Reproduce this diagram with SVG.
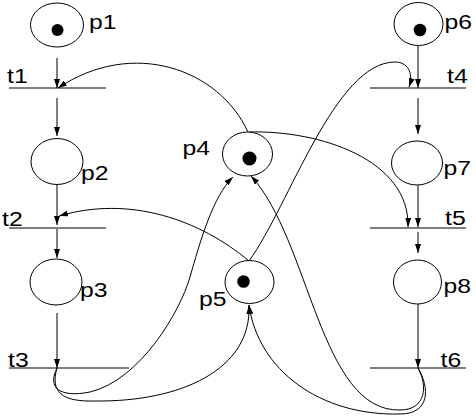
<svg xmlns="http://www.w3.org/2000/svg" width="476" height="419" viewBox="0 0 476 419">
<style>
  .pl { fill: #fff; stroke: #000; stroke-width: 1; }
  .tk { fill: #000; stroke: none; }
  .bar { stroke: #000; stroke-width: 1.2; fill: none; }
  .ed { stroke: #000; stroke-width: 1; fill: none; marker-end: url(#ah); }
  .lb { font-family: "Liberation Sans", Arial, sans-serif; font-size: 19.5px; fill: #000; }
</style>
<defs>
  <marker id="ah" markerWidth="9" markerHeight="6" refX="9" refY="3" orient="auto" markerUnits="userSpaceOnUse">
    <path d="M0,0 L9,3 L0,6 z" fill="#000"/>
  </marker>
</defs>
<rect width="476" height="419" fill="#fff"/>

<g id="connectors">
  <path class="ed" d="M57,58 L57,88"/>
  <path class="ed" d="M57,98 L57,136"/>
  <path class="ed" d="M57,185 L57,225"/>
  <path class="ed" d="M57,229 L57,258"/>
  <path class="ed" d="M57,313 L57,368"/>
  <path class="ed" d="M418,46 L418,88"/>
  <path class="ed" d="M418,98 L418,134"/>
  <path class="ed" d="M418,185 L418,227"/>
  <path class="ed" d="M418,232 L418,253"/>
  <path class="ed" d="M418,304 L418,368"/>
  <path class="ed" d="M248,132 C219,69 133,38 58,88"/>
  <path class="ed" d="M249,132 C320,130 410,160 408,227"/>
  <path class="ed" d="M249,261 C289,206 335,62 395,62 C407,62 414,72 409,87"/>
  <path class="ed" d="M249,261 C200,220 130,195 59,216"/>
  <path class="ed" d="M57,368 C47,388 60,398 90,392 C140,380 180,312 190,277 C200,242 213,196 233,177"/>
  <path class="ed" d="M57,368 C50,392 62,402 95,401 C180,402 252,370 249,305"/>
  <path class="ed" d="M418,368 C428,386 426,410 400,410 C320,412 310,240 251,176"/>
  <path class="ed" d="M418,368 C430,388 430,414 400,414 C320,416 258,370 249,305"/>
</g>

<g id="p1"><ellipse class="pl" cx="57" cy="25" rx="26.5" ry="22"/><circle class="tk" cx="57.5" cy="30" r="6"/><text class="lb" x="89" y="28.5" textLength="27.5" lengthAdjust="spacingAndGlyphs">p1</text></g>
<g id="p2"><ellipse class="pl" cx="57" cy="161.5" rx="26" ry="23"/><text class="lb" x="81" y="180" textLength="27.5" lengthAdjust="spacingAndGlyphs">p2</text></g>
<g id="p3"><ellipse class="pl" cx="56" cy="282" rx="26" ry="23"/><text class="lb" x="80" y="297" textLength="27.5" lengthAdjust="spacingAndGlyphs">p3</text></g>
<g id="p4"><ellipse class="pl" cx="247.5" cy="154" rx="25" ry="22"/><circle class="tk" cx="249.5" cy="158.5" r="7"/><text class="lb" x="182.5" y="155" textLength="27.5" lengthAdjust="spacingAndGlyphs">p4</text></g>
<g id="p5"><ellipse class="pl" cx="249.5" cy="282" rx="24.5" ry="21.5"/><circle class="tk" cx="243.5" cy="281.5" r="6.3"/><text class="lb" x="199" y="306" textLength="27.5" lengthAdjust="spacingAndGlyphs">p5</text></g>
<g id="p6"><ellipse class="pl" cx="418.5" cy="24" rx="24.5" ry="21.5"/><circle class="tk" cx="420" cy="30" r="6.3"/><text class="lb" x="444.5" y="29" textLength="27.5" lengthAdjust="spacingAndGlyphs">p6</text></g>
<g id="p7"><ellipse class="pl" cx="417" cy="163" rx="25.5" ry="22"/><text class="lb" x="443.5" y="175" textLength="27.5" lengthAdjust="spacingAndGlyphs">p7</text></g>
<g id="p8"><ellipse class="pl" cx="417.5" cy="282" rx="24" ry="22"/><text class="lb" x="443.5" y="293" textLength="27.5" lengthAdjust="spacingAndGlyphs">p8</text></g>

<g id="t1"><line class="bar" x1="9" y1="88" x2="106" y2="88"/><text class="lb" x="7" y="83" textLength="20.7" lengthAdjust="spacingAndGlyphs">t1</text></g>
<g id="t2"><line class="bar" x1="9" y1="228" x2="106" y2="228"/><text class="lb" x="2" y="226" textLength="20.7" lengthAdjust="spacingAndGlyphs">t2</text></g>
<g id="t3"><line class="bar" x1="9" y1="368" x2="129" y2="368"/><text class="lb" x="8" y="366.5" textLength="20.7" lengthAdjust="spacingAndGlyphs">t3</text></g>
<g id="t4"><line class="bar" x1="370" y1="88" x2="466" y2="88"/><text class="lb" x="447" y="83" textLength="20.7" lengthAdjust="spacingAndGlyphs">t4</text></g>
<g id="t5"><line class="bar" x1="370" y1="228" x2="466" y2="228"/><text class="lb" x="445" y="225" textLength="20.7" lengthAdjust="spacingAndGlyphs">t5</text></g>
<g id="t6"><line class="bar" x1="370" y1="368" x2="466" y2="368"/><text class="lb" x="440.5" y="366.5" textLength="20.7" lengthAdjust="spacingAndGlyphs">t6</text></g>
</svg>
